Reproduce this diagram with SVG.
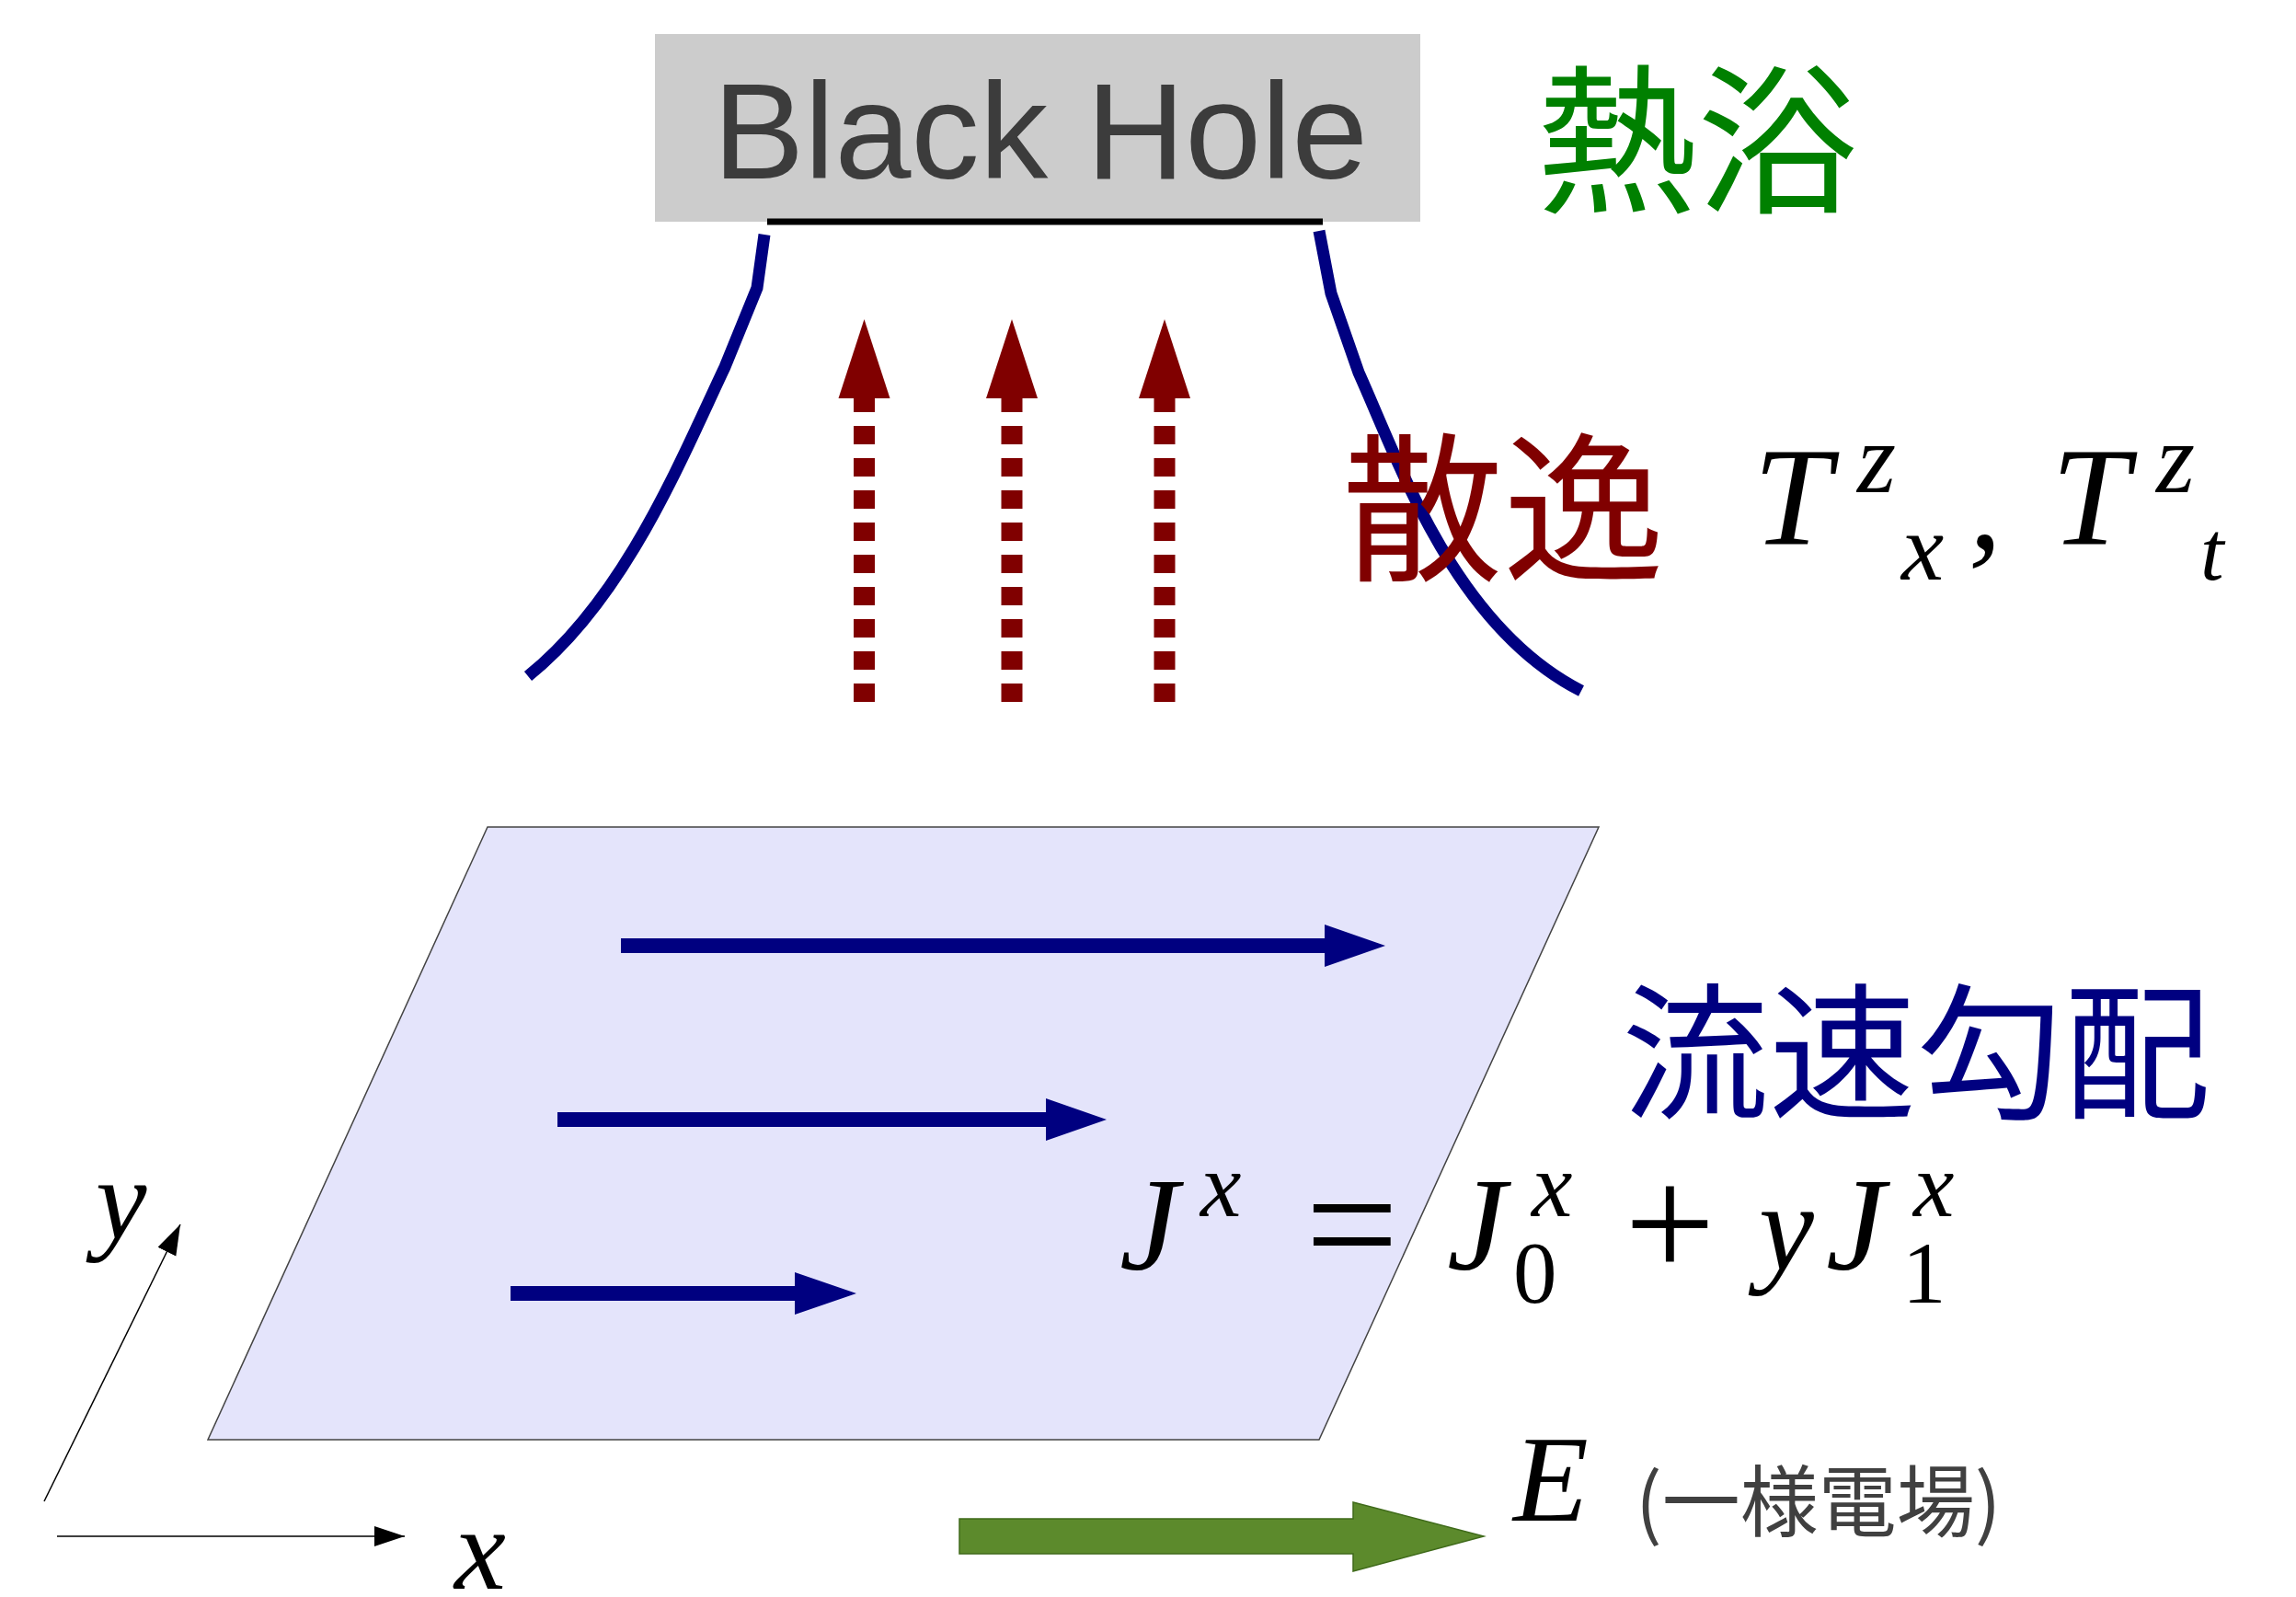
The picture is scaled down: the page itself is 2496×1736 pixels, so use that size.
<svg xmlns="http://www.w3.org/2000/svg" width="2496" height="1736" viewBox="0 0 2496 1736">
  <defs>
    <style>
      .cjk { font-family: "Noto Sans CJK JP", "Noto Sans CJK SC", sans-serif; }
      .math { font-family: "Liberation Serif", "DejaVu Serif", serif; font-style: italic; fill: #000; }
      .num { font-family: "Liberation Serif", "DejaVu Serif", serif; fill: #000; }
      .navy { fill: #000080; }
      .horizon { fill: none; stroke: #000080; stroke-width: 13; }
      .flux { stroke: #800000; stroke-width: 23; stroke-dasharray: 20 15; fill: none; }
      .fluxhead { fill: #800000; }
      .axis { stroke: #000; stroke-width: 1.5; fill: none; marker-end: url(#axhead); }
    </style>
    <marker id="axhead" markerUnits="userSpaceOnUse" markerWidth="34" markerHeight="24" refX="33" refY="11" orient="auto" viewBox="0 0 34 24">
      <path d="M0,0 L33,11 L0,22 z" fill="#000"/>
    </marker>
  </defs>
  <rect width="2496" height="1736" fill="#fff"/>

  <g id="black-hole">
    <rect x="712" y="37" width="832" height="204" fill="#cccccc"/>
    <text x="1131" y="194" text-anchor="middle" font-family="Liberation Sans, Arial, sans-serif" font-size="149" fill="#3c3c3c">Black Hole</text>
    <line x1="834" y1="241" x2="1438" y2="241" stroke="#000" stroke-width="7"/>
  </g>

  <g id="heat-bath-label">
    <text class="cjk" x="1670" y="218" font-size="175" fill="#008000">熱浴</text>
  </g>

  <g id="horizon-curves">
    <path class="horizon" d="M831,255 L823,313 L788,399 C740,500 680,650 574,735"/>
    <path class="horizon" d="M1434,251 L1447,319 L1477,405 C1520,500 1580,680 1719,751"/>
  </g>

  <g id="dissipation-label">
    <text class="cjk" x="1459" y="618" font-size="175" fill="#800000">散逸</text>
    <text class="math" x="1906" y="592" font-size="152">T</text>
    <text class="math" x="2019" y="535" font-size="108">z</text>
    <text class="math" x="2067" y="630" font-size="104">x</text>
    <text class="math" x="2140" y="596" font-size="145">,</text>
    <text class="math" x="2230" y="592" font-size="152">T</text>
    <text class="math" x="2344" y="535" font-size="108">z</text>
    <text class="math" x="2392" y="630" font-size="92">t</text>
  </g>

  <g id="plane">
    <polygon points="530,899 1738,899 1434,1565 226,1565" fill="#e4e4fb" stroke="#444" stroke-width="1.5"/>
  </g>

  <g id="flow-label">
    <text class="cjk" x="1763" y="1204" font-size="160" fill="#000080">流速勾配</text>
  </g>

  <g id="current-formula">
    <text class="math" x="1217" y="1380" font-size="145">J</text>
    <text class="math" x="1305" y="1322" font-size="100">x</text>
    <text class="num" x="1419" y="1391" font-size="180">=</text>
    <text class="math" x="1573" y="1380" font-size="145">J</text>
    <text class="math" x="1665" y="1322" font-size="100">x</text>
    <text class="num" x="1645" y="1416" font-size="95">0</text>
    <text class="num" x="1766" y="1389" font-size="175">+</text>
    <text class="math" x="1912" y="1380" font-size="135">y</text>
    <text class="math" x="1985" y="1380" font-size="145">J</text>
    <text class="math" x="2080" y="1322" font-size="100">x</text>
    <text class="num" x="2068" y="1416" font-size="95">1</text>
  </g>

  <g id="axes">
    <line class="axis" x1="48" y1="1632" x2="196" y2="1331"/>
    <line class="axis" x1="62" y1="1670" x2="440" y2="1670"/>
    <text class="math" x="104" y="1346" font-size="125">y</text>
    <text class="math" x="494" y="1727" font-size="126">x</text>
  </g>

  <g id="field">
    <polygon points="1043,1651 1471,1651 1471,1633 1613,1670 1471,1708 1471,1689 1043,1689" fill="#5c8a2c" stroke="#3f6a1a" stroke-width="1.5"/>
    <text class="math" x="1645" y="1653" font-size="134">E</text>
    <text class="cjk" x="1778" y="1664" font-size="85" fill="#404040">(一様電場)</text>
  </g>

  <g id="connectors">
    <g id="dissipation-arrows">
      <line class="flux" x1="939.5" y1="763" x2="939.5" y2="432"/>
      <polygon class="fluxhead" points="939.5,347 911.5,433 967.5,433"/>
      <line class="flux" x1="1100" y1="763" x2="1100" y2="432"/>
      <polygon class="fluxhead" points="1100,347 1072,433 1128,433"/>
      <line class="flux" x1="1266" y1="763" x2="1266" y2="432"/>
      <polygon class="fluxhead" points="1266,347 1238,433 1294,433"/>
    </g>
    <g id="flow-arrows">
      <polygon class="navy" points="675,1020 1440,1020 1440,1005 1506,1028 1440,1051 1440,1036 675,1036"/>
      <polygon class="navy" points="606,1209 1137,1209 1137,1194 1203,1217 1137,1240 1137,1225 606,1225"/>
      <polygon class="navy" points="555,1398 864,1398 864,1383 931,1406 864,1429 864,1414 555,1414"/>
    </g>
  </g>
</svg>
